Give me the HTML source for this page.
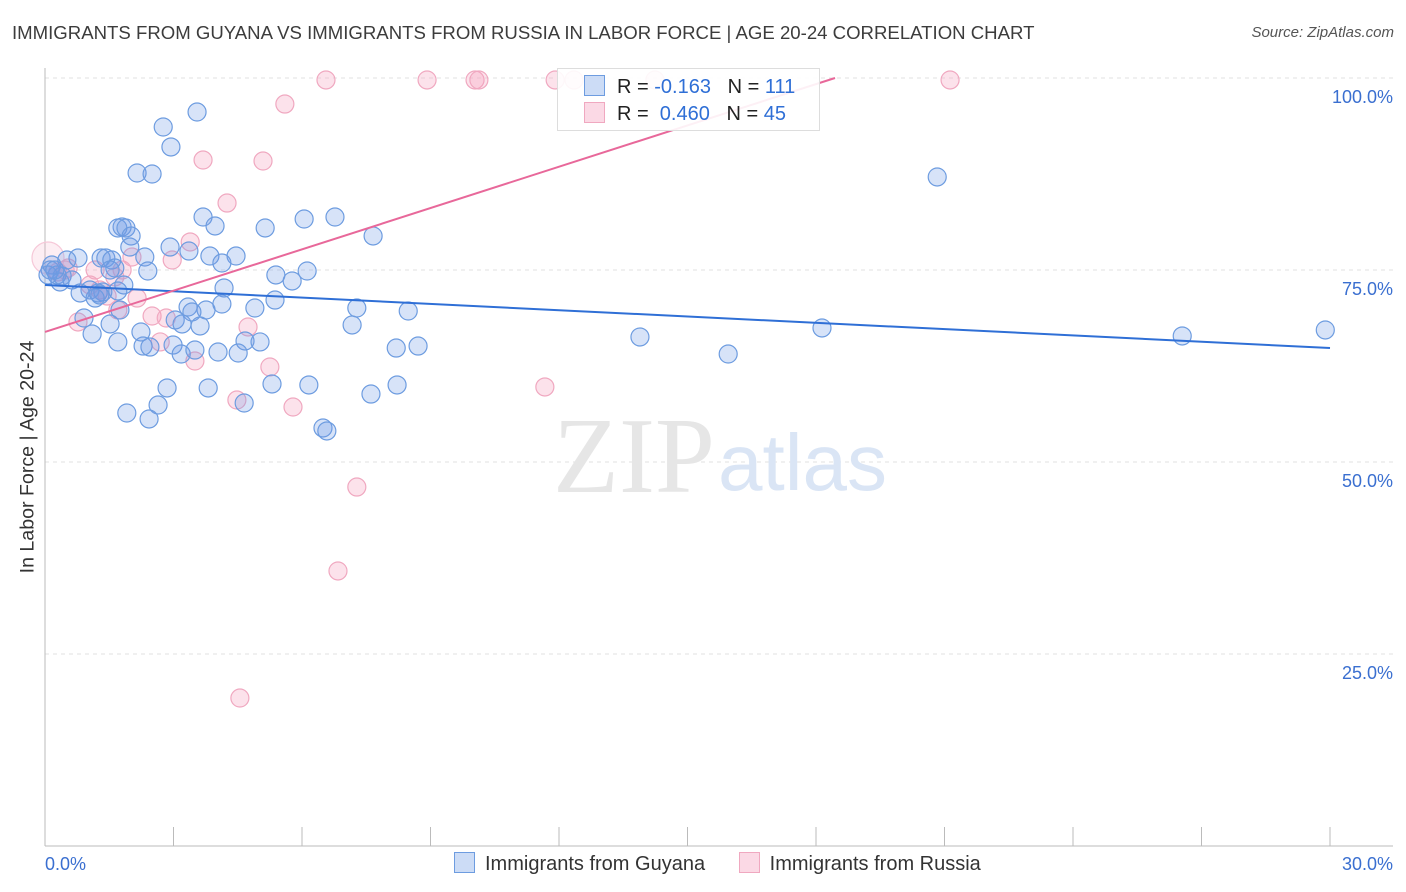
<!DOCTYPE html>
<html><head><meta charset="utf-8">
<style>
body{margin:0;background:#fff;font-family:"Liberation Sans",sans-serif;}
#wrap{position:relative;width:1406px;height:892px;overflow:hidden;}
</style></head>
<body>
<div id="wrap">
<svg id="chart" width="1406" height="892"></svg>
</div>
<script>
const blueX=[2.76,3.55,2.94,2.15,2.50,20.83,3.69,3.97,6.05,6.77,1.80,1.70,1.89,5.14,7.66,2.01,1.98,2.92,3.36,3.85,4.46,2.33,4.13,0.77,1.31,1.42,1.56,1.63,2.40,0.51,0.16,0.12,0.28,0.40,0.63,0.35,0.07,0.23,1.52,5.39,6.12,5.77,4.18,1.84,1.05,1.24,0.82,1.35,1.70,1.17,1.28,5.37,3.34,4.13,3.76,3.43,4.90,7.28,8.48,1.75,0.91,3.04,3.20,1.52,3.62,7.17,1.10,2.24,1.70,2.99,2.29,2.45,4.67,5.02,13.89,18.14,26.55,29.89,8.71,8.20,3.18,3.50,4.04,4.51,15.95,5.30,6.16,8.22,7.61,2.85,3.81,2.64,4.65,1.91,2.43,6.49,6.58];
const blueY=[93.62,95.57,91.02,87.63,87.50,87.11,81.90,80.73,81.64,81.90,80.60,80.47,80.47,80.47,79.43,79.43,77.99,77.99,77.47,76.82,76.82,76.69,75.91,76.56,76.56,76.56,76.30,75.26,74.87,76.30,75.65,75.00,74.35,74.22,73.70,73.44,74.35,75.00,75.00,74.35,74.87,73.57,72.66,73.05,72.40,72.01,72.01,72.14,72.27,71.35,71.74,71.09,70.18,70.57,69.79,69.53,70.05,70.05,69.66,69.79,68.75,68.49,67.97,67.97,67.71,67.84,66.67,66.93,65.63,65.23,65.10,64.97,65.76,65.63,66.28,67.45,66.41,67.19,65.10,64.84,64.06,64.58,64.32,64.19,64.06,60.16,60.03,60.03,58.85,59.64,59.64,57.42,57.68,56.38,55.60,54.43,54.04];
const pinkX=[6.56,8.92,10.04,10.13,11.91,12.35,14.24,21.13,5.60,3.69,5.09,4.25,3.39,0.07,2.97,2.03,0.54,1.17,1.80,1.63,1.05,1.28,2.15,1.70,2.50,2.83,0.77,4.74,2.69,3.50,5.25,11.67,4.48,5.79,7.28,6.84,4.55,0.47,0.30,1.45];
const pinkY=[99.74,99.74,99.74,99.74,99.74,99.74,99.74,99.74,96.61,89.32,89.19,83.72,78.65,76.56,76.30,76.69,75.26,75.00,75.00,74.09,73.05,72.40,71.35,69.79,69.01,68.75,68.23,67.58,65.63,63.15,62.37,59.77,58.07,57.16,46.74,35.81,19.27,75.00,74.74,71.61];
const blueTrend=[73.05,64.84]; // y at x=0 and x=30
const pinkTrend=[66.93,1.793]; // intercept, slope per %
const yTicks=[100,75,50,25];
const yTickLabels=["100.0%","75.0%","50.0%","25.0%"];
const xTicks=[0,3,6,9,12,15,18,21,24,27,30];

const NS="http://www.w3.org/2000/svg";
const svg=document.getElementById('chart');
const X0=45,X1=1330,Y0=846,YS=7.68;
const sx=v=>X0+v/30*(X1-X0);
const sy=v=>Y0-v*YS;
function mk(tag,attrs,parent){const e=document.createElementNS(NS,tag);for(const k in attrs)e.setAttribute(k,attrs[k]);(parent||svg).appendChild(e);return e;}

yTicks.forEach((t,i)=>{
  const g=mk('line',{x1:X0,x2:1393,y1:sy(t),y2:sy(t),stroke:'#e2e2e2','stroke-dasharray':'4,4'});
  
  
  const tx=mk('text',{x:1393,y:sy(t)+25,'text-anchor':'end','font-size':18,fill:'#3a6fd0'});
  tx.textContent=yTickLabels[i];
  
  
});
const ya=mk('line',{x1:X0,x2:X0,y1:68,y2:846,stroke:'#bbb'});


const xa=mk('line',{x1:X0,x2:1393,y1:846,y2:846,stroke:'#bbb'});


xTicks.forEach(t=>{
  const l=mk('line',{x1:sx(t),x2:sx(t),y1:827,y2:846,stroke:'#bbb'});
  
  
});
const wm=mk('text',{x:553,y:492,'font-size':108,'font-family':'Liberation Serif,serif',fill:'#e6e6e6'});
wm.textContent='ZIP';


const wm2=mk('text',{x:718,y:490,'font-size':80,fill:'#dae5f5'});
wm2.textContent='atlas';



pinkX.forEach((x,i)=>{
  const big=(i===13);
  const c=mk('circle',{cx:sx(x),cy:sy(pinkY[i]),r:big?16:9,fill:big?'rgba(244,160,190,0.18)':'rgba(244,160,190,0.3)',stroke:big?'#f6c8d8':'#f0a8c0','stroke-width':1.2});
  
  
});
blueX.forEach((x,i)=>{
  const c=mk('circle',{cx:sx(x),cy:sy(blueY[i]),r:9,fill:'rgba(110,155,230,0.28)',stroke:'#6d9ce0','stroke-width':1.2});
  
  
});
const bt=mk('line',{x1:sx(0),y1:sy(blueTrend[0]),x2:sx(30),y2:sy(blueTrend[1]),stroke:'#2f6fd6','stroke-width':2});


const xEnd=Math.min(30,(100-pinkTrend[0])/pinkTrend[1]);
const pt=mk('line',{x1:sx(0),y1:sy(pinkTrend[0]),x2:sx(xEnd),y2:sy(pinkTrend[0]+pinkTrend[1]*xEnd),stroke:'#e8689a','stroke-width':2});



const xl0=mk('text',{x:45,y:870,'font-size':18,fill:'#3a6fd0'});xl0.textContent='0.0%';


const xl1=mk('text',{x:1393,y:870,'text-anchor':'end','font-size':18,fill:'#3a6fd0'});xl1.textContent='30.0%';


</script>

<div style="position:absolute;left:12px;top:22px;font-size:18.6px;color:#3c3c3c;white-space:nowrap;">IMMIGRANTS FROM GUYANA VS IMMIGRANTS FROM RUSSIA IN LABOR FORCE | AGE 20-24 CORRELATION CHART</div>
<div style="position:absolute;right:12px;top:24px;font-size:15px;color:#555;font-style:italic;">Source: ZipAtlas.com</div>
<div style="position:absolute;left:28px;top:457px;transform:translate(-50%,-50%) rotate(-90deg);font-size:19.6px;color:#333;white-space:nowrap;">In Labor Force | Age 20-24</div>

<div style="position:absolute;left:557px;top:68px;width:261px;height:61px;border:1px solid #ddd;background:rgba(255,255,255,0.9);font-size:20px;color:#222;">
  <div style="position:absolute;left:26px;top:6px;white-space:nowrap;">
    <span style="display:inline-block;width:19px;height:19px;background:rgba(110,155,230,0.35);border:1px solid #6d9ce0;vertical-align:-3px;margin-right:12px;"></span>R = <span style="color:#2f6fd6">-0.163</span>&nbsp;&nbsp;&nbsp;N = <span style="color:#2f6fd6">111</span></div>
  <div style="position:absolute;left:26px;top:33px;white-space:nowrap;">
    <span style="display:inline-block;width:19px;height:19px;background:rgba(244,160,190,0.4);border:1px solid #f0a8c0;vertical-align:-3px;margin-right:12px;"></span>R = &nbsp;<span style="color:#2f6fd6">0.460</span>&nbsp;&nbsp;&nbsp;N = <span style="color:#2f6fd6">45</span></div>
</div>

<div style="position:absolute;left:454px;top:852px;font-size:20px;color:#333;white-space:nowrap;">
  <span><span style="display:inline-block;width:19px;height:19px;background:rgba(110,155,230,0.35);border:1px solid #6d9ce0;vertical-align:-3px;margin-right:10px;"></span>Immigrants from Guyana</span>
  <span style="margin-left:28px;"><span style="display:inline-block;width:19px;height:19px;background:rgba(244,160,190,0.4);border:1px solid #f0a8c0;vertical-align:-3px;margin-right:10px;"></span>Immigrants from Russia</span>
</div>
</body></html>
